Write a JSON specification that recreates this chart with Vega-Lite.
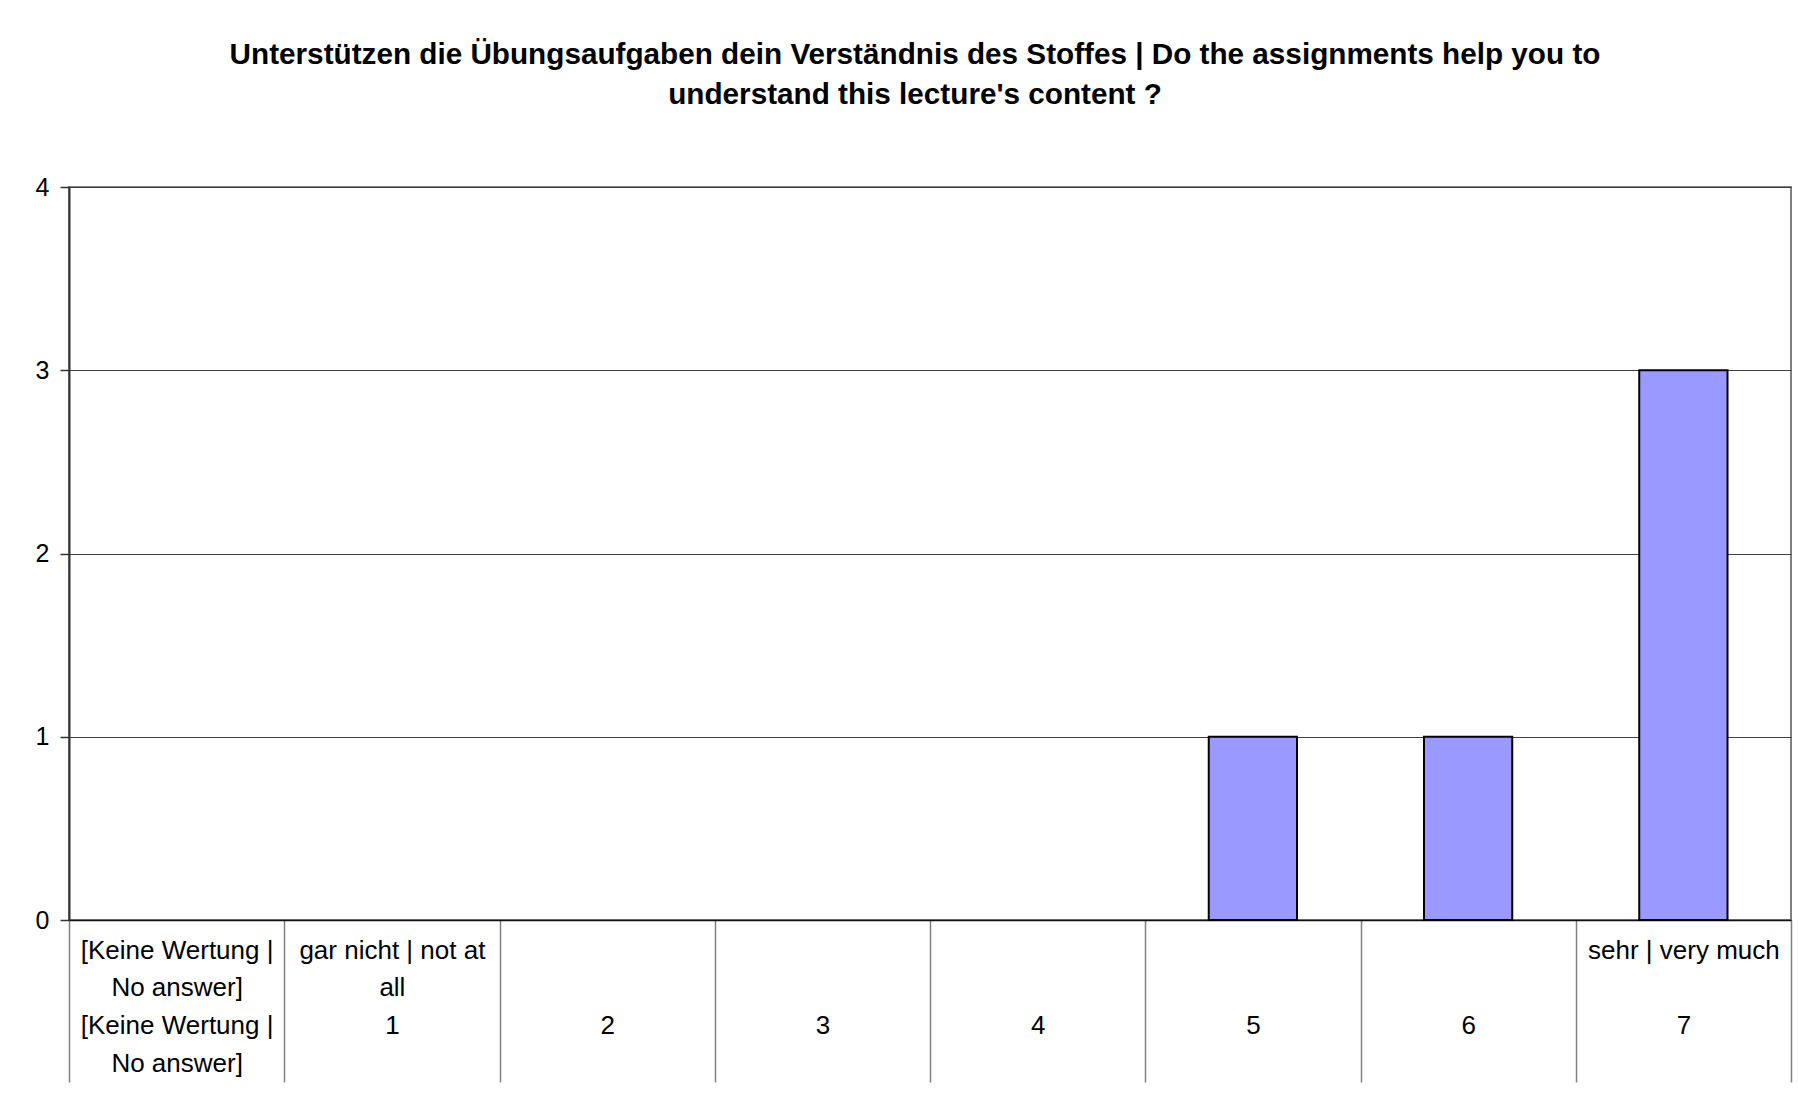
{
  "$schema": "https://vega.github.io/schema/vega-lite/v6.json",
  "autosize": {"type": "none"},
  "width": 1722,
  "height": 733,
  "padding": {"left": 69, "top": 187, "right": 7, "bottom": 184},
  "background": "white",
  "title": {
    "text": ["Unterstützen die Übungsaufgaben dein Verständnis des Stoffes | Do the assignments help you to", "understand this lecture's content ?"],
    "font": "Liberation Sans",
    "fontSize": 29.7,
    "fontWeight": "bold",
    "color": "black",
    "lineHeight": 40,
    "anchor": "middle",
    "dx": -15,
    "offset": 64
  },
  "data": {
    "values": [
      {"rating": "[Keine Wertung | No answer]", "label": "[Keine Wertung | No answer]", "count": 0},
      {"rating": "1", "label": "gar nicht | not at all", "count": 0},
      {"rating": "2", "label": "", "count": 0},
      {"rating": "3", "label": "", "count": 0},
      {"rating": "4", "label": "", "count": 0},
      {"rating": "5", "label": "", "count": 1},
      {"rating": "6", "label": "", "count": 1},
      {"rating": "7", "label": "sehr | very much", "count": 3}
    ]
  },
  "mark": {"type": "bar", "fill": "#9999FF", "stroke": "black", "strokeWidth": 2, "width": {"band": 0.41}},
  "encoding": {
    "x": {
      "field": "rating",
      "type": "nominal",
      "sort": null,
      "scale": {"paddingInner": 0, "paddingOuter": 0},
      "axis": {
        "title": null,
        "labelAngle": 0,
        "labelFont": "Liberation Sans",
        "labelFontSize": 26,
        "labelColor": "black",
        "labelBaseline": "top",
        "labelAlign": "center",
        "labelLineHeight": 37.7,
        "labelPadding": -145,
        "labelLimit": 0,
        "labelOverlap": false,
        "labelExpr": "datum.value == '1' ? ['gar nicht | not at', 'all', '1'] : datum.value == '7' ? ['sehr | very much', '\u2800', '7'] : datum.value == '[Keine Wertung | No answer]' ? ['[Keine Wertung |', 'No answer]', '[Keine Wertung |', 'No answer]'] : ['\u2800', '\u2800', datum.value]",
        "tickBand": "extent",
        "tickSize": 162,
        "tickColor": "#808080",
        "tickWidth": 1.5,
        "domainColor": "#111111",
        "domainWidth": 1.5,
        "grid": false
      }
    },
    "y": {
      "field": "count",
      "type": "quantitative",
      "scale": {"domain": [0, 4], "nice": false},
      "axis": {
        "title": null,
        "values": [0, 1, 2, 3, 4],
        "labelFont": "Liberation Sans",
        "labelFontSize": 25,
        "labelColor": "black",
        "labelPadding": 11,
        "tickSize": 9,
        "tickColor": "#333333",
        "tickWidth": 1.5,
        "domainColor": "#333333",
        "domainWidth": 2,
        "grid": true,
        "gridColor": "#404040",
        "gridWidth": 1.2
      }
    },
    "strokeOpacity": {"condition": {"test": "datum.count == 0", "value": 0}, "value": 1}
  },
  "config": {
    "view": {"stroke": "#808080", "strokeWidth": 2}
  }
}
